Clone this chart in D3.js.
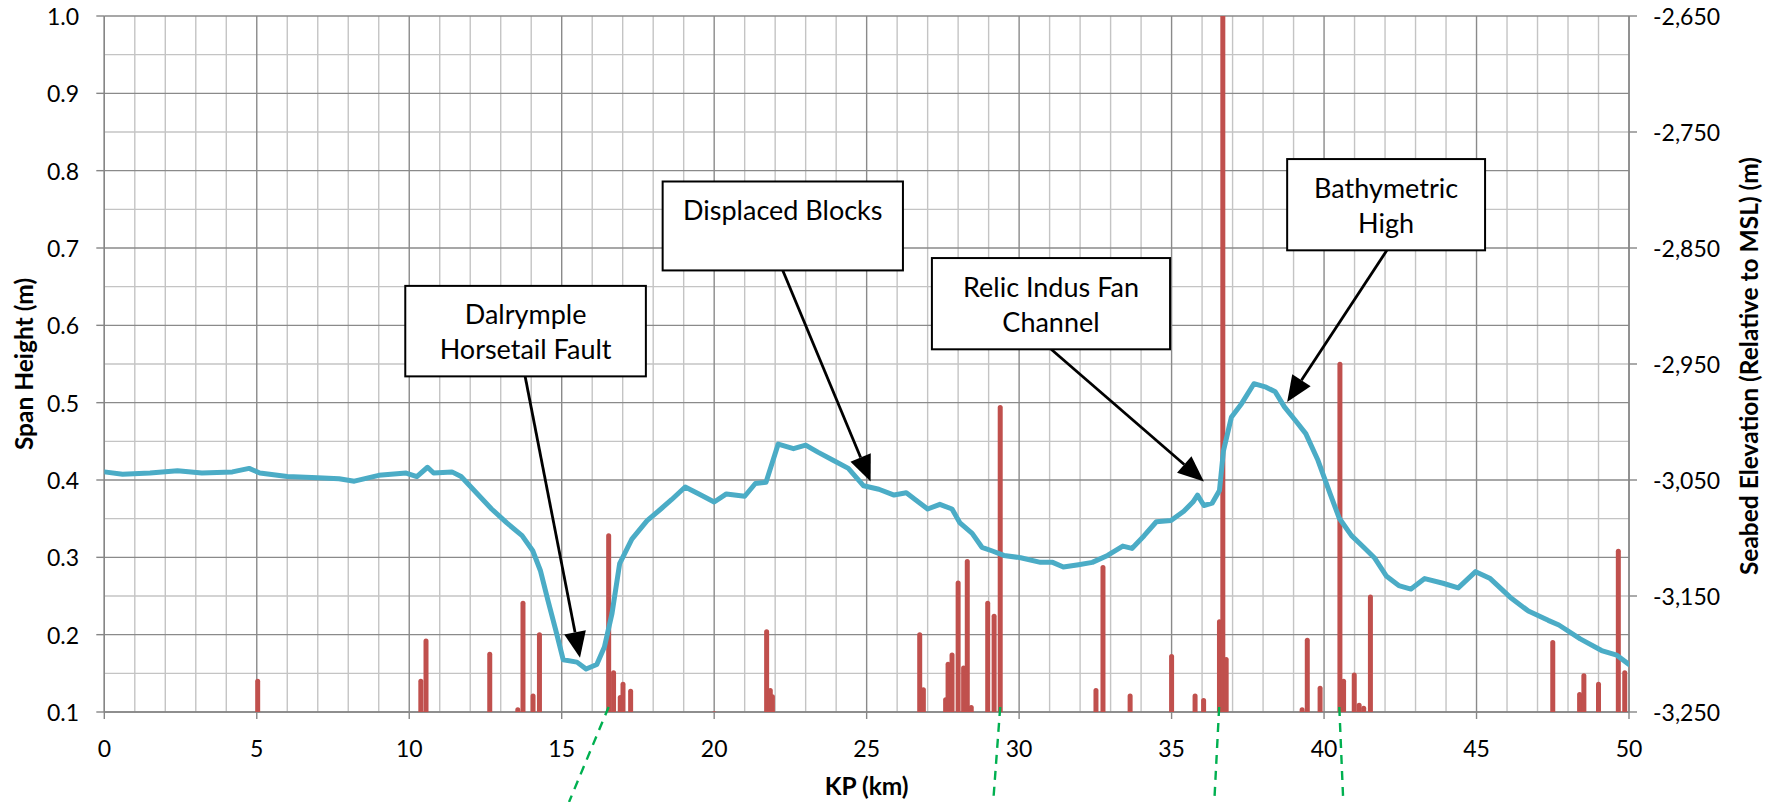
<!DOCTYPE html>
<html>
<head>
<meta charset="utf-8">
<script src="https://cdn.jsdelivr.net/npm/d3@7"></script>
<style>
  html, body { margin: 0; padding: 0; background: #ffffff; }
  svg { display: block; }
  text { font-family: Lato, "Open Sans", sans-serif; fill: #000; }
</style>
</head>
<body>
<svg id="chart" width="1777" height="802"></svg>
<script>
// ---------------- DATA ----------------
// Seabed elevation profile (right axis), KP in km
const seabedKp = [0.0,0.6,1.5,2.4,3.2,4.2,4.75,5.1,6.0,7.0,7.7,8.2,9.0,9.9,10.25,10.6,10.8,11.4,11.7,12.2,12.7,13.2,13.7,14.05,14.3,14.55,14.8,15.05,15.5,15.8,16.15,16.4,16.65,16.9,17.3,17.8,18.25,18.6,19.05,19.5,20.0,20.4,21.0,21.35,21.7,22.1,22.6,23.0,23.4,23.9,24.4,24.9,25.4,25.9,26.3,26.6,27.0,27.4,27.8,28.06,28.46,28.78,29.1,29.5,30.05,30.7,31.1,31.45,31.95,32.4,32.9,33.4,33.7,34.1,34.5,34.98,35.4,35.7,35.85,36.06,36.33,36.57,36.7,36.96,37.3,37.7,38.1,38.4,38.7,39.1,39.4,39.8,40.2,40.5,40.9,41.3,41.65,42.05,42.45,42.85,43.3,43.9,44.4,44.97,45.45,46.1,46.7,47.35,47.7,48.4,49.1,49.6,50.0];
const seabedElev = [-3043,-3045,-3044,-3042,-3044,-3043,-3040,-3044,-3047,-3048,-3049,-3051,-3046,-3044,-3047,-3039,-3044,-3043,-3047,-3061,-3075,-3087,-3098,-3111,-3128,-3154,-3179,-3205,-3207,-3213,-3209,-3194,-3165,-3122,-3101,-3085,-3075,-3067,-3056,-3062,-3069,-3062,-3064,-3053,-3052,-3019,-3023,-3020,-3026,-3033,-3040,-3055,-3058,-3063,-3061,-3067,-3075,-3071,-3075,-3087,-3096,-3108,-3111,-3115,-3117,-3121,-3121,-3125,-3123,-3121,-3115,-3107,-3109,-3098,-3086,-3085,-3077,-3069,-3063,-3072,-3070,-3059,-3025,-2996,-2984,-2967,-2970,-2974,-2987,-3000,-3010,-3033,-3062,-3083,-3098,-3108,-3117,-3133,-3141,-3144,-3135,-3139,-3143,-3129,-3135,-3151,-3163,-3171,-3175,-3187,-3197,-3201,-3209];

// Span heights (left axis), KP in km
const spanKp = [5.03,10.38,10.55,12.64,13.56,13.73,14.06,14.27,16.54,16.7,16.92,17.01,17.26,20.0,21.72,21.84,21.91,26.74,26.86,27.59,27.67,27.8,28.0,28.18,28.3,28.43,28.97,29.18,29.38,32.52,32.75,33.64,35.0,35.77,36.05,36.57,36.68,36.79,39.28,39.45,39.87,40.52,40.64,40.99,41.15,41.3,41.52,47.5,48.38,48.52,49.0,49.65,49.86];
const spanHeight = [0.143,0.143,0.195,0.178,0.106,0.244,0.124,0.203,0.331,0.154,0.122,0.139,0.130,0.101,0.207,0.131,0.123,0.203,0.132,0.119,0.165,0.177,0.270,0.160,0.298,0.109,0.244,0.227,0.497,0.131,0.290,0.124,0.175,0.124,0.118,0.220,1.20,0.171,0.106,0.196,0.134,0.553,0.143,0.151,0.112,0.108,0.252,0.193,0.126,0.150,0.139,0.311,0.154];

// Tick values and labels
const xTicks = [0,5,10,15,20,25,30,35,40,45,50];
const xTickLabels = ["0","5","10","15","20","25","30","35","40","45","50"];
const leftTicks = [0.1,0.2,0.3,0.4,0.5,0.6,0.7,0.8,0.9,1.0];
const leftTickLabels = ["0.1","0.2","0.3","0.4","0.5","0.6","0.7","0.8","0.9","1.0"];
const rightTicks = [-3250,-3150,-3050,-2950,-2850,-2750,-2650];
const rightTickLabels = ["-3,250","-3,150","-3,050","-2,950","-2,850","-2,750","-2,650"];

// Titles
const xTitle = "KP (km)";
const yLeftTitle = "Span Height (m)";
const yRightTitle = "Seabed Elevation (Relative to MSL) (m)";

// Callout annotations (data units: km / span height)
const callouts = [
  {lines:["Dalrymple","Horsetail Fault"], k0:9.87, k1:17.76, vTop:0.651, vBot:0.534, from:[13.80,0.534], to:[15.60,0.170]},
  {lines:["Displaced Blocks"], k0:18.31, k1:26.19, vTop:0.786, vBot:0.671, from:[22.25,0.671], to:[25.13,0.398]},
  {lines:["Relic Indus Fan","Channel"], k0:27.14, k1:34.95, vTop:0.687, vBot:0.569, from:[31.05,0.569], to:[36.06,0.398]},
  {lines:["Bathymetric","High"], k0:38.79, k1:45.28, vTop:0.815, vBot:0.697, from:[42.06,0.697], to:[38.79,0.501]}
];
// Green dashed tie lines below axis (KP at axis, KP where they leave the figure)
const tieTop = [16.54, 29.38, 36.56, 40.50];
const tieBottom = [15.24, 29.15, 36.40, 40.63];

// ---------------- DRAW ----------------
const W = 1777, H = 802;
const m = {left: 104.3, right: 1629, top: 16, bottom: 712};
const svg = d3.select("#chart");

const x = d3.scaleLinear().domain([0, 50]).range([m.left, m.right]);
const yL = d3.scaleLinear().domain([0.1, 1.0]).range([m.bottom, m.top]);
const yR = d3.scaleLinear().domain([-3250, -2650]).range([m.bottom, m.top]);

svg.append("defs").append("clipPath").attr("id", "plotClip")
  .append("rect").attr("x", m.left).attr("y", m.top)
  .attr("width", m.right - m.left).attr("height", m.bottom - m.top);

const grid = svg.append("g");
const minorX = d3.range(0, 51, 1).filter(d => d % 5 !== 0);
grid.selectAll(".vmin").data(minorX).join("line")
  .attr("x1", d => x(d)).attr("x2", d => x(d))
  .attr("y1", m.top).attr("y2", m.bottom)
  .attr("stroke", "#c4c4c4").attr("stroke-width", 1.4);
const minorY = d3.range(0.15, 1.0, 0.1);
grid.selectAll(".hmin").data(minorY).join("line")
  .attr("x1", m.left).attr("x2", m.right)
  .attr("y1", d => yL(d)).attr("y2", d => yL(d))
  .attr("stroke", "#c4c4c4").attr("stroke-width", 1.4);
grid.selectAll(".vmaj").data(xTicks).join("line")
  .attr("x1", d => x(d)).attr("x2", d => x(d))
  .attr("y1", m.top).attr("y2", m.bottom)
  .attr("stroke", "#8a8a8a").attr("stroke-width", 1.4);
grid.selectAll(".hmaj").data(leftTicks).join("line")
  .attr("x1", m.left).attr("x2", m.right)
  .attr("y1", d => yL(d)).attr("y2", d => yL(d))
  .attr("stroke", "#8a8a8a").attr("stroke-width", 1.4);

const axes = svg.append("g").attr("stroke", "#868686").attr("stroke-width", 1.4);
axes.append("line").attr("x1", m.left).attr("x2", m.left).attr("y1", m.top).attr("y2", m.bottom);
axes.append("line").attr("x1", m.right).attr("x2", m.right).attr("y1", m.top).attr("y2", m.bottom);
axes.append("line").attr("x1", m.left).attr("x2", m.right).attr("y1", m.bottom).attr("y2", m.bottom);
axes.selectAll(".lt").data(leftTicks).join("line")
  .attr("x1", m.left - 8).attr("x2", m.left).attr("y1", d => yL(d)).attr("y2", d => yL(d));
axes.selectAll(".rt").data(rightTicks).join("line")
  .attr("x1", m.right).attr("x2", m.right + 8).attr("y1", d => yR(d)).attr("y2", d => yR(d));
axes.selectAll(".bt").data(xTicks).join("line")
  .attr("x1", d => x(d)).attr("x2", d => x(d)).attr("y1", m.bottom).attr("y2", m.bottom + 7);

const plot = svg.append("g").attr("clip-path", "url(#plotClip)");
plot.selectAll(".spike").data(spanKp.map((k, i) => ({k, v: spanHeight[i]}))).join("line")
  .attr("x1", d => x(d.k)).attr("x2", d => x(d.k))
  .attr("y1", yL(0.1) + 4).attr("y2", d => yL(d.v) + 2.5)
  .attr("stroke", "#c0504d").attr("stroke-width", 5).attr("stroke-linecap", "round");

const line = d3.line().x(d => x(d.k)).y(d => yR(d.e));
plot.append("path")
  .datum(seabedKp.map((k, i) => ({k, e: seabedElev[i]})))
  .attr("d", line)
  .attr("fill", "none").attr("stroke", "#4bacc6").attr("stroke-width", 5)
  .attr("stroke-linejoin", "round").attr("stroke-linecap", "round");

svg.selectAll(".tie").data(tieTop.map((t, i) => ({t, b: tieBottom[i]}))).join("line")
  .attr("x1", d => x(d.t)).attr("y1", m.bottom - 5)
  .attr("x2", d => x(d.b)).attr("y2", H)
  .attr("stroke", "#00b050").attr("stroke-width", 2.4).attr("stroke-dasharray", "9,7");

const ann = svg.append("g");
callouts.forEach(c => {
  const fx = x(c.from[0]), fy = yL(c.from[1]);
  const tx = x(c.to[0]), ty = yL(c.to[1]);
  const ang = Math.atan2(ty - fy, tx - fx);
  const hl = 26, hw = 11;
  const bx = tx - hl * Math.cos(ang), by = ty - hl * Math.sin(ang);
  ann.append("line").attr("x1", fx).attr("y1", fy).attr("x2", bx).attr("y2", by)
    .attr("stroke", "#000").attr("stroke-width", 2.8);
  const px = -Math.sin(ang), py = Math.cos(ang);
  ann.append("path")
    .attr("d", `M${tx},${ty}L${bx + hw * px},${by + hw * py}L${bx - hw * px},${by - hw * py}Z`)
    .attr("fill", "#000");
  const x0 = x(c.k0), x1 = x(c.k1), y0 = yL(c.vTop), y1 = yL(c.vBot);
  ann.append("rect").attr("x", x0).attr("y", y0).attr("width", x1 - x0).attr("height", y1 - y0)
    .attr("fill", "#fff").attr("stroke", "#000").attr("stroke-width", 2);
  c.lines.forEach((t, i) => {
    ann.append("text").attr("x", (x0 + x1) / 2).attr("y", y0 + 28 + i * 35)
      .attr("text-anchor", "middle").attr("dominant-baseline", "central")
      .attr("font-size", 27).text(t);
  });
});

const labels = svg.append("g");
labels.selectAll(".ll").data(leftTicks).join("text")
  .attr("x", 79).attr("y", d => yL(d)).attr("text-anchor", "end")
  .attr("dominant-baseline", "central").attr("font-size", 23)
  .text((d, i) => leftTickLabels[i]);
labels.selectAll(".rl").data(rightTicks).join("text")
  .attr("x", 1653).attr("y", d => yR(d)).attr("text-anchor", "start")
  .attr("dominant-baseline", "central").attr("font-size", 23)
  .text((d, i) => rightTickLabels[i]);
labels.selectAll(".xl").data(xTicks).join("text")
  .attr("x", d => x(d)).attr("y", 748).attr("text-anchor", "middle")
  .attr("dominant-baseline", "central").attr("font-size", 23)
  .text((d, i) => xTickLabels[i]);

svg.append("text").attr("x", (m.left + m.right) / 2).attr("y", 785)
  .attr("text-anchor", "middle").attr("dominant-baseline", "central")
  .attr("font-weight", "bold").attr("font-size", 24.5).text(xTitle);
svg.append("text").attr("transform", `translate(23,${(m.top + m.bottom) / 2}) rotate(-90)`)
  .attr("text-anchor", "middle").attr("dominant-baseline", "central")
  .attr("font-weight", "bold").attr("font-size", 24.5).text(yLeftTitle);
svg.append("text").attr("transform", `translate(1748,${(m.top + m.bottom) / 2 + 2}) rotate(-90)`)
  .attr("text-anchor", "middle").attr("dominant-baseline", "central")
  .attr("font-weight", "bold").attr("font-size", 24.5).text(yRightTitle);
</script>
</body>
</html>
